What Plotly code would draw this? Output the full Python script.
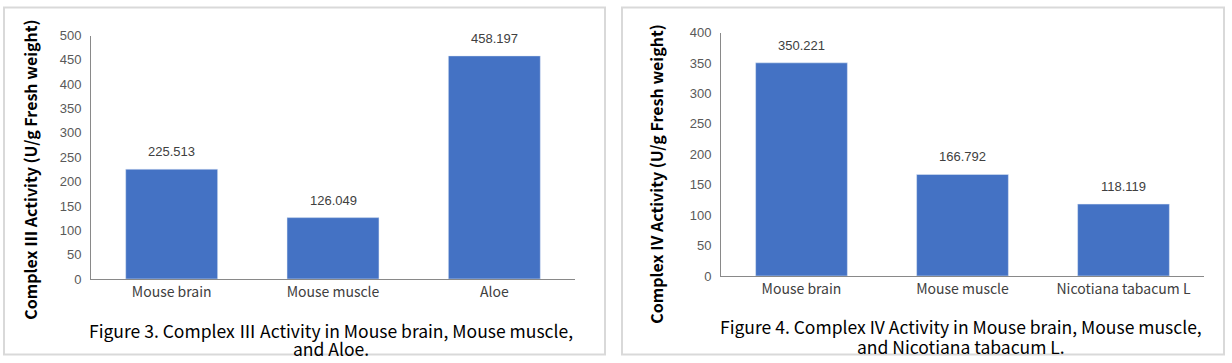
import plotly.graph_objects as go

W, H = 1232, 363

cats3 = ["Mouse brain", "Mouse muscle", "Aloe"]
vals3 = [225.513, 126.049, 458.197]
cats4 = ["Mouse brain", "Mouse muscle", "Nicotiana tabacum L"]
vals4 = [350.221, 166.792, 118.119]

ytitle3 = "Complex Ⅲ Activity (U/g Fresh weight)"
ytitle4 = "Complex IV Activity (U/g Fresh weight)"
cap3 = ["Figure 3. Complex Ⅲ Activity in Mouse brain, Mouse muscle,", "and Aloe."]
cap4 = ["Figure 4. Complex IV Activity in Mouse brain, Mouse muscle,", "and Nicotiana tabacum L."]

BAR = "#4472C4"
AX = "#898989"
TICKF = dict(family="Liberation Sans, Arial", size=13, color="#595959")
CATF = dict(family="Noto Sans CJK SC", size=14, color="#404040")
LBLF = dict(family="Liberation Sans, Arial", size=13, color="#404040")
CJK = "Noto Sans CJK SC"

# observed vertical mapping of the photographed page: y_obs = SY * y + OY
SY, OY = 0.957, 7.5


def px(x):
    return x / W


def py(y):
    yl = (y - OY) / SY
    yl = min(max(yl, 0.5), H - 0.5)
    return 1 - yl / H


fig = go.Figure()
fig.add_trace(go.Bar(x=cats3, y=vals3, marker_color=BAR, width=0.57,
                     xaxis="x", yaxis="y", hoverinfo="skip"))
fig.add_trace(go.Bar(x=cats4, y=vals4, marker_color=BAR, width=0.57,
                     xaxis="x2", yaxis="y2", hoverinfo="skip"))

ann = []
for c, v in zip(cats3, vals3):
    ann.append(dict(x=c, y=v, xref="x", yref="y", text=f"{v:.3f}", showarrow=False,
                    xanchor="center", yanchor="bottom", yshift=8, font=LBLF))
for c, v in zip(cats4, vals4):
    ann.append(dict(x=c, y=v, xref="x2", yref="y2", text=f"{v:.3f}", showarrow=False,
                    xanchor="center", yanchor="bottom", yshift=8, font=LBLF))

TF = dict(family=CJK, size=16, color="#000000", weight="bold")
CF = dict(family=CJK, size=17.5, color="#000000")
ann += [
    dict(x=px(30), y=py(170), xref="paper", yref="paper", text=ytitle3, textangle=-90,
         xanchor="center", yanchor="middle", showarrow=False, font=TF),
    dict(x=px(656), y=py(174), xref="paper", yref="paper", text=ytitle4, textangle=-90,
         xanchor="center", yanchor="middle", showarrow=False, font=TF),
]
for line, yy in zip(cap3, [330, 348]):
    ann.append(dict(x=px(331), y=py(yy), xref="paper", yref="paper", text=line,
                    showarrow=False, xanchor="center", yanchor="middle", font=CF))
for line, yy in zip(cap4, [326, 346]):
    ann.append(dict(x=px(961), y=py(yy), xref="paper", yref="paper", text=line,
                    showarrow=False, xanchor="center", yanchor="middle", font=CF))

shapes = [
    dict(type="rect", xref="paper", yref="paper", x0=px(4), x1=px(605), y0=py(356), y1=py(6),
         line=dict(color="#D9D9D9", width=2)),
    dict(type="rect", xref="paper", yref="paper", x0=px(622), x1=px(1224), y0=py(356), y1=py(6),
         line=dict(color="#D9D9D9", width=2)),
]

xcommon = dict(showline=True, linecolor=AX, linewidth=1, showgrid=False, ticks="",
               tickfont=CATF, zeroline=False, fixedrange=True)
ycommon = dict(showline=True, linecolor=AX, linewidth=1, showgrid=False, ticks="",
               tickfont=TICKF, zeroline=False, ticklabelstandoff=6, fixedrange=True)

fig.update_layout(
    width=W, height=H,
    margin=dict(l=0, r=0, t=0, b=0),
    paper_bgcolor="white", plot_bgcolor="white",
    showlegend=False,
    xaxis=dict(domain=[px(91), px(575)], anchor="y", **xcommon),
    yaxis=dict(domain=[py(279), py(36)], anchor="x", range=[0, 500], dtick=50, **ycommon),
    xaxis2=dict(domain=[px(721), px(1204)], anchor="y2", **xcommon),
    yaxis2=dict(domain=[py(276), py(33)], anchor="x2", range=[0, 400], dtick=50, **ycommon),
    annotations=ann,
    shapes=shapes,
)

post = (
    "document.documentElement.style.margin='0';"
    "document.documentElement.style.padding='0';"
    "document.documentElement.style.overflow='hidden';"
    "document.body.style.margin='0';document.body.style.padding='0';"
    "document.body.style.overflow='hidden';"
    "var d=document.getElementsByClassName('plotly-graph-div')[0];"
    "d.style.position='fixed';d.style.left='0px';d.style.top='0px';"
)
fig.write_html("out.html", config={"staticPlot": True}, post_script=post)
